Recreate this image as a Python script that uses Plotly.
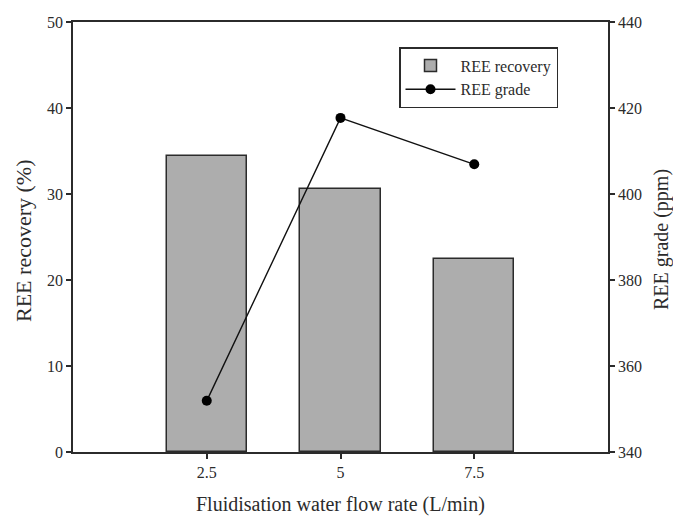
import plotly.graph_objects as go

flow_rates = [2.5, 5, 7.5]
recovery = [34.45, 30.6, 22.4]
grade = [351.9, 417.7, 406.9]
left_ticks = [0, 10, 20, 30, 40, 50]
right_ticks = [340, 360, 380, 400, 420, 440]
x_ticks = [2.5, 5, 7.5]
x_tick_text = ["2.5", "5", "7.5"]

FONT = "Liberation Serif"
INK = "#2b2b2b"

# page body has an 8px margin; figure sized to fit the 681x526 window without overflow
fig = go.Figure()
fig.add_trace(go.Bar(
    x=flow_rates, y=recovery, name="REE recovery", width=1.5,
    marker=dict(color="#adadad", line=dict(color=INK, width=1.5)),
    yaxis="y",
))
fig.add_trace(go.Scatter(
    x=flow_rates, y=grade, name="REE grade", mode="lines+markers",
    line=dict(color="#111111", width=1.4),
    marker=dict(color="black", size=10),
    yaxis="y2",
))

axis_common = dict(
    showline=True, linecolor=INK, linewidth=1.5,
    ticks="outside", ticklen=5, tickcolor=INK, tickwidth=1.5,
    showgrid=False, zeroline=False, automargin=False,
    tickfont=dict(family=FONT, size=16, color=INK),
)

PW, PH = 535, 430
W, H = 665, 510
fig.update_layout(
    width=W, height=H,
    margin=dict(l=65, r=W - 65 - PW, t=14, b=H - 14 - PH),
    plot_bgcolor="white", paper_bgcolor="white",
    font=dict(family=FONT, size=16, color=INK),
    showlegend=True,
    legend=dict(
        x=(399 - 73) / PW, y=(452 - 47) / PH, xanchor="left", yanchor="top",
        bordercolor=INK, borderwidth=1.5, bgcolor="white",
        font=dict(family=FONT, size=16, color=INK),
        itemwidth=50,
    ),
    xaxis=dict(range=[0, 10], tickvals=x_ticks, ticktext=x_tick_text,
               mirror=True, **axis_common),
    yaxis=dict(range=[0, 50], tickvals=left_ticks, **axis_common),
    yaxis2=dict(range=[340, 440], tickvals=right_ticks, overlaying="y",
                side="right", **axis_common),
    bargap=0,
    annotations=[
        dict(text="Fluidisation water flow rate (L/min)", xref="paper", yref="paper",
             x=0.5, y=(452 - 505) / PH, xanchor="center", yanchor="middle",
             showarrow=False, font=dict(family=FONT, size=20, color=INK)),
        dict(text="REE recovery (%)", xref="paper", yref="paper",
             x=(23 - 73) / PW, y=(452 - 241) / PH, xanchor="center", yanchor="middle",
             textangle=-90, showarrow=False, font=dict(family=FONT, size=22, color=INK)),
        dict(text="REE grade (ppm)", xref="paper", yref="paper",
             x=(662 - 73) / PW, y=(452 - 240) / PH, xanchor="center", yanchor="middle",
             textangle=-90, showarrow=False, font=dict(family=FONT, size=20, color=INK)),
    ],
)

fig.write_html("out.html")
